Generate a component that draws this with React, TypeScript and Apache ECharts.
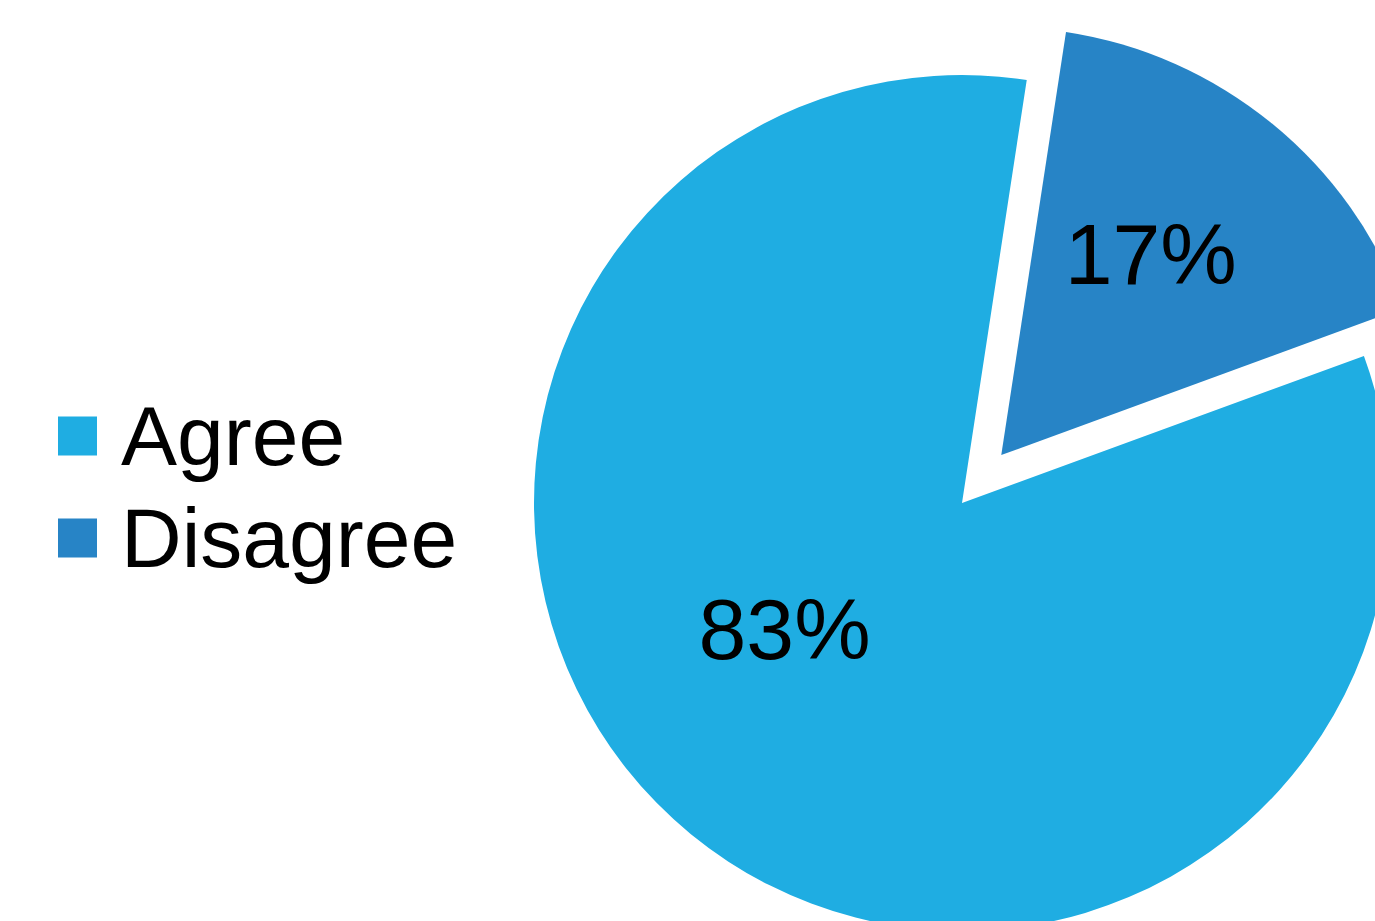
import React, { useEffect, useRef } from "react";
import * as echarts from "echarts";

const categories = ["Agree", "Disagree"];
const values = [83, 17];
const colors = ["#1FADE2", "#2784C6"];

export default function App() {
  const ref = useRef<HTMLDivElement>(null);
  useEffect(() => {
    if (!ref.current) return;
    const chart = echarts.init(ref.current, null, { renderer: "svg" });
    const labelShift = [
      { dx: -40, dy: -42 },
      { dx: 12, dy: -33 },
    ];
    chart.setOption({
      animation: false,
      backgroundColor: "#ffffff",
      legend: {
        orient: "vertical",
        left: 53,
        top: 389,
        itemWidth: 39,
        itemHeight: 39,
        itemGap: 18,
        icon: "rect",
        data: categories,
        selectedMode: false,
        textStyle: {
          fontFamily: "Liberation Sans, Arial, sans-serif",
          fontSize: 84,
          color: "#000000",
          padding: [0, 0, 6, 19],
        },
      },
      series: [
        {
          type: "pie",
          center: [962, 503],
          radius: [0, 428],
          startAngle: 20.1,
          clockwise: true,
          selectedMode: "single",
          selectedOffset: 62,
          silent: true,
          label: {
            show: true,
            position: "inside",
            formatter: (p: any) => `${p.value}%`,
            fontFamily: "Liberation Sans, Arial, sans-serif",
            fontSize: 86,
            color: "#000000",
          },
          labelLine: { show: false },
          labelLayout: (params: any) => labelShift[params.dataIndex] || {},
          emphasis: { disabled: true },
          data: categories.map((c, i) => ({
            name: c,
            value: values[i],
            selected: i === 1,
            itemStyle: { color: colors[i] },
          })),
        },
      ],
    });
    return () => chart.dispose();
  }, []);
  return (
    <div
      ref={ref}
      style={{ position: "fixed", left: 0, top: 0, width: 1375, height: 921 }}
    />
  );
}
